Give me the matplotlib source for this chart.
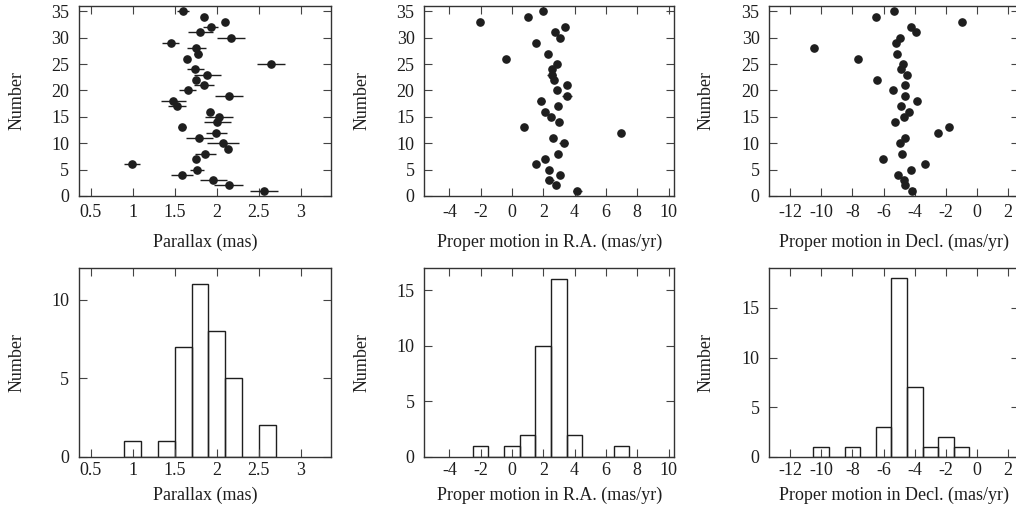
import numpy as np
import matplotlib
matplotlib.use("Agg")
import matplotlib.pyplot as plt
from matplotlib.ticker import FormatStrFormatter

plt.rcParams['font.family'] = ['Liberation Serif', 'DejaVu Serif']
plt.rcParams['font.size'] = 13
plt.rcParams['axes.unicode_minus'] = False

ink = '#1e1e1e'

# star number 1..35
plx_id = list(range(1, 36))
plx = [2.563, 2.143, 1.96, 1.591, 1.762, 0.992, 1.75, 1.865, 2.131, 2.075,
       1.794, 1.996, 1.587, 2.008, 2.028, 1.925, 1.528, 1.484, 2.147, 1.655,
       1.845, 1.758, 1.889, 1.746, 2.643, 1.65, 1.78, 1.758, 1.452, 2.17,
       1.806, 1.929, 2.103, 1.853, 1.595]
plx_err = [0.17, 0.17, 0.16, 0.13, 0.085, 0.10, 0.03, 0.13, 0.03, 0.195,
           0.165, 0.13, 0.05, 0.16, 0.17, 0.04, 0.11, 0.15, 0.165, 0.10,
           0.12, 0.03, 0.16, 0.10, 0.165, 0.03, 0.05, 0.11, 0.10, 0.165,
           0.145, 0.09, 0.03, 0.03, 0.07]

pmra_id = [1, 2, 3, 4, 5, 6, 7, 8, 10, 11, 12, 13, 14, 15, 16, 17, 18, 19,
           20, 21, 22, 23, 24, 25, 26, 27, 29, 30, 31, 32, 33, 34, 35]
pmra = [4.17, 2.81, 2.38, 3.06, 2.34, 1.51, 2.09, 2.91, 3.3, 2.64, 6.94, 0.79,
        3.0, 2.47, 2.13, 2.94, 1.83, 3.53, 2.85, 3.49, 2.66, 2.53, 2.57, 2.85,
        -0.36, 2.32, 1.55, 3.09, 2.77, 3.38, -2.02, 1.0, 1.98]
pmra_err = [0.3, 0.15, 0.3, 0.15, 0.15, 0.15, 0.15, 0.15, 0.27, 0.15, 0.15, 0.15,
            0.15, 0.15, 0.15, 0.15, 0.25, 0.32, 0.15, 0.15, 0.15, 0.27, 0.15, 0.15,
            0.15, 0.15, 0.15, 0.15, 0.15, 0.15, 0.15, 0.15, 0.15]

pmde_id = [1, 2, 3, 4, 5, 6, 7, 8, 10, 11, 12, 13, 14, 15, 16, 17, 18, 19,
           20, 21, 22, 23, 24, 25, 26, 27, 28, 29, 30, 31, 32, 33, 34, 35]
pmde = [-4.16, -4.65, -4.71, -5.08, -4.26, -3.35, -6.02, -4.8, -4.93, -4.63,
        -2.51, -1.79, -5.29, -4.69, -4.39, -4.88, -3.86, -4.63, -5.42, -4.61,
        -6.42, -4.5, -4.91, -4.78, -7.66, -5.16, -10.48, -5.23, -4.93, -3.9,
        -4.22, -0.99, -6.49, -5.33]

# histograms (bin edges, counts)
plx_edges = [0.9, 1.1, 1.3, 1.5, 1.7, 1.9, 2.1, 2.3, 2.5, 2.7]
plx_counts = [1, 0, 1, 7, 11, 8, 5, 0, 2]
pmra_edges = [-2.5, -1.5, -0.5, 0.5, 1.5, 2.5, 3.5, 4.5, 5.5, 6.5, 7.5]
pmra_counts = [1, 0, 1, 2, 10, 16, 2, 0, 0, 1]
pmde_edges = [-10.5, -9.5, -8.5, -7.5, -6.5, -5.5, -4.5, -3.5, -2.5, -1.5, -0.5]
pmde_counts = [1, 0, 1, 0, 3, 18, 7, 1, 2, 1]

W, H = 1016, 518
fig = plt.figure(figsize=(W / 100, H / 100), dpi=100)

def ax_px(x0, x1, y0, y1):
    return fig.add_axes([x0 / W, 1 - y1 / H, (x1 - x0) / W, (y1 - y0) / H])

def style(ax, xlim, xticks, ylim, yticks, xlabel, ylx, xly, pad):
    ax.set_xlim(*xlim)
    ax.set_ylim(*ylim)
    ax.set_xticks(xticks)
    ax.set_yticks(yticks)
    ax.xaxis.set_major_formatter(FormatStrFormatter('%g'))
    ax.tick_params(direction='in', top=True, right=True, length=5.5,
                   width=0.8, color='#444444', labelcolor=ink)
    ax.tick_params(axis='x', pad=pad)
    ax.tick_params(axis='y', pad=7)
    for s in ax.spines.values():
        s.set_linewidth(1.0)
        s.set_color('#333333')
    ax.set_xlabel(xlabel, color=ink)
    ax.set_ylabel('Number', color=ink)
    ax.yaxis.set_label_coords(ylx, 0.5)
    ax.xaxis.set_label_coords(0.5, xly)

top = (6, 196)
bot = (268.3, 456.7)
cols = [(79, 331), (424.3, 674), (769.3, 1019)]

labels = ['Parallax (mas)', 'Proper motion in R.A. (mas/yr)',
          'Proper motion in Decl. (mas/yr)']
xlims = [(0.36, 3.36), (-5.6, 10.35), (-13.33, 2.69)]
xticks = [[0.5, 1, 1.5, 2, 2.5, 3], list(range(-4, 11, 2)), list(range(-12, 3, 2))]
ylx = [-0.212, -0.215, -0.22]

mk = dict(fmt='o', color=ink, ms=5.2, elinewidth=1.0, capsize=0)

# top row: values vs star number
a1 = ax_px(*cols[0], *top)
a1.errorbar(plx, plx_id, xerr=plx_err, **mk)
a2 = ax_px(*cols[1], *top)
a2.errorbar(pmra, pmra_id, xerr=pmra_err, **mk)
a3 = ax_px(*cols[2], *top)
a3.plot(pmde, pmde_id, 'o', color=ink, ms=5.2)

for i, ax in enumerate([a1, a2, a3]):
    style(ax, xlims[i], xticks[i], (0, 36), range(0, 36, 5), labels[i],
          ylx[i], -0.2, 6)

# bottom row: histograms
hists = [(plx_edges, plx_counts, (0, 12), [0, 5, 10]),
         (pmra_edges, pmra_counts, (0, 17), [0, 5, 10, 15]),
         (pmde_edges, pmde_counts, (0, 19), [0, 5, 10, 15])]
for i, (edges, counts, ylim, yt) in enumerate(hists):
    ax = ax_px(*cols[i], *bot)
    ax.bar(edges[:-1], counts, width=np.diff(edges), align='edge',
           fill=False, edgecolor=ink, linewidth=1.0)
    style(ax, xlims[i], xticks[i], ylim, yt, labels[i], ylx[i], -0.16, 4)

fig.savefig('out.png', dpi=100)
